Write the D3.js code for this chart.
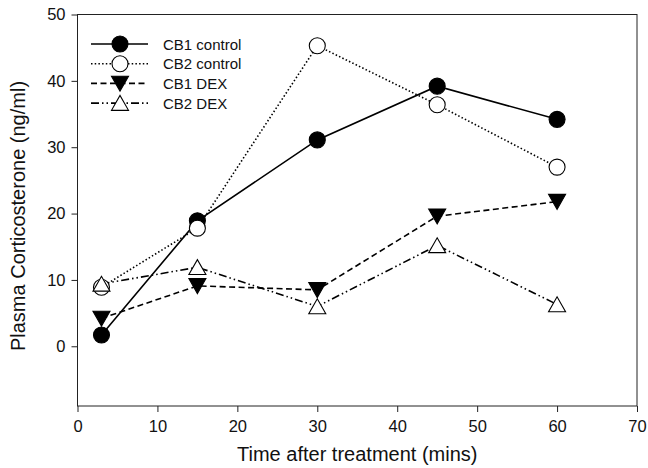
<!DOCTYPE html>
<html>
<head>
<meta charset="utf-8">
<script src="https://cdn.jsdelivr.net/npm/d3@7"></script>
<style>
  body { margin: 0; background: #fff; }
  text { font-family: "Liberation Sans", Arial, sans-serif; fill: #111; }
</style>
</head>
<body>
<div id="chart"></div>
<script>
// data
const times = [3, 15, 30, 45, 60];
const cb1Control = [1.7, 18.9, 31.1, 39.2, 34.2];
const cb2Control = [8.9, 17.8, 45.3, 36.4, 27.0];
const cb1Dex = [4.2, 9.1, 8.5, 19.6, 21.8];
const cb2Dex = [9.4, 11.9, 6.0, 15.2, 6.3];
const xTicks = [0, 10, 20, 30, 40, 50, 60, 70];
const yTicks = [0, 10, 20, 30, 40, 50];

const seriesList = [
    { name: "CB1 control", values: cb1Control, marker: "circle", fill: "#000", dash: null },
    { name: "CB2 control", values: cb2Control, marker: "circle", fill: "#fff", dash: "1.5,2.2" },
    { name: "CB1 DEX", values: cb1Dex, marker: "down", fill: "#000", dash: "6,3.5" },
    { name: "CB2 DEX", values: cb2Dex, marker: "up", fill: "#fff", dash: "8,3,1.5,3,1.5,3" }
];

const W = 648, H = 468;
const margin = { left: 77.5, right: 11, top: 14.5, bottom: 62 };

const svg = d3.select("#chart").append("svg")
    .attr("width", W)
    .attr("height", H);

const x = d3.scaleLinear().domain([0, 70]).range([margin.left, W - margin.right]);
const y = d3.scaleLinear().domain([-9, 50]).range([H - margin.bottom, margin.top]);

// frame
svg.append("rect")
    .attr("x", x(0)).attr("y", y(50))
    .attr("width", x(70) - x(0)).attr("height", y(-9) - y(50))
    .attr("fill", "none").attr("stroke", "#222").attr("stroke-width", 1);

// axes
const xAxis = svg.append("g")
    .attr("transform", `translate(0,${y(-9)})`)
    .call(d3.axisBottom(x).tickValues(xTicks).tickSize(6).tickPadding(8));
const yAxis = svg.append("g")
    .attr("transform", `translate(${x(0)},0)`)
    .call(d3.axisLeft(y).tickValues(yTicks).tickSize(6).tickPadding(6));

[xAxis, yAxis].forEach(g => {
    g.select(".domain").remove();
    g.selectAll("line").attr("stroke", "#222");
    g.selectAll("text").style("font-size", "16.5px").style("font-family", '"Liberation Sans", Arial, sans-serif').attr("fill", "#111");
});

// axis titles
svg.append("text")
    .attr("x", (x(0) + x(70)) / 2)
    .attr("y", 461)
    .attr("text-anchor", "middle")
    .style("font-size", "20px")
    .text("Time after treatment (mins)");

svg.append("text")
    .attr("transform", "translate(25,216) rotate(-90)")
    .attr("text-anchor", "middle")
    .style("font-size", "20px")
    .text("Plasma Corticosterone (ng/ml)");

const symbolPath = (type) => {
    if (type === "circle") return d3.symbol().type(d3.symbolCircle).size(Math.PI * 8 * 8)();
    const s = 8.5;
    if (type === "down") return `M${-s},${-s * 0.85}L${s},${-s * 0.85}L0,${s * 0.9}Z`;
    return `M${-s},${s * 0.85}L${s},${s * 0.85}L0,${-s * 0.9}Z`;
};

const line = d3.line()
    .x(d => x(d[0]))
    .y(d => y(d[1]));

// lines
seriesList.forEach(s => {
    const pts = times.map((t, i) => [t, s.values[i]]);
    svg.append("path")
        .datum(pts)
        .attr("d", line)
        .attr("fill", "none")
        .attr("stroke", "#000")
        .attr("stroke-width", 1.6)
        .attr("stroke-dasharray", s.dash);
});

// markers
seriesList.forEach(s => {
    svg.selectAll(null)
        .data(times.map((t, i) => [t, s.values[i]]))
        .enter()
        .append("path")
        .attr("transform", d => `translate(${x(d[0])},${y(d[1])})`)
        .attr("d", symbolPath(s.marker))
        .attr("fill", s.fill)
        .attr("stroke", "#000")
        .attr("stroke-width", 1.1);
});

// legend
const legend = svg.append("g").attr("transform", "translate(91,44)");
seriesList.forEach((s, i) => {
    const row = legend.append("g").attr("transform", `translate(0,${i * 19.7})`);
    row.append("line")
        .attr("x1", 0).attr("x2", 57)
        .attr("y1", 0).attr("y2", 0)
        .attr("stroke", "#000")
        .attr("stroke-width", 1.6)
        .attr("stroke-dasharray", s.dash);
    row.append("path")
        .attr("transform", "translate(29,0)")
        .attr("d", symbolPath(s.marker))
        .attr("fill", s.fill)
        .attr("stroke", "#000")
        .attr("stroke-width", 1.1);
    row.append("text")
        .attr("x", 72)
        .attr("y", 5.5)
        .style("font-size", "15px")
        .text(s.name);
});
</script>
</body>
</html>
